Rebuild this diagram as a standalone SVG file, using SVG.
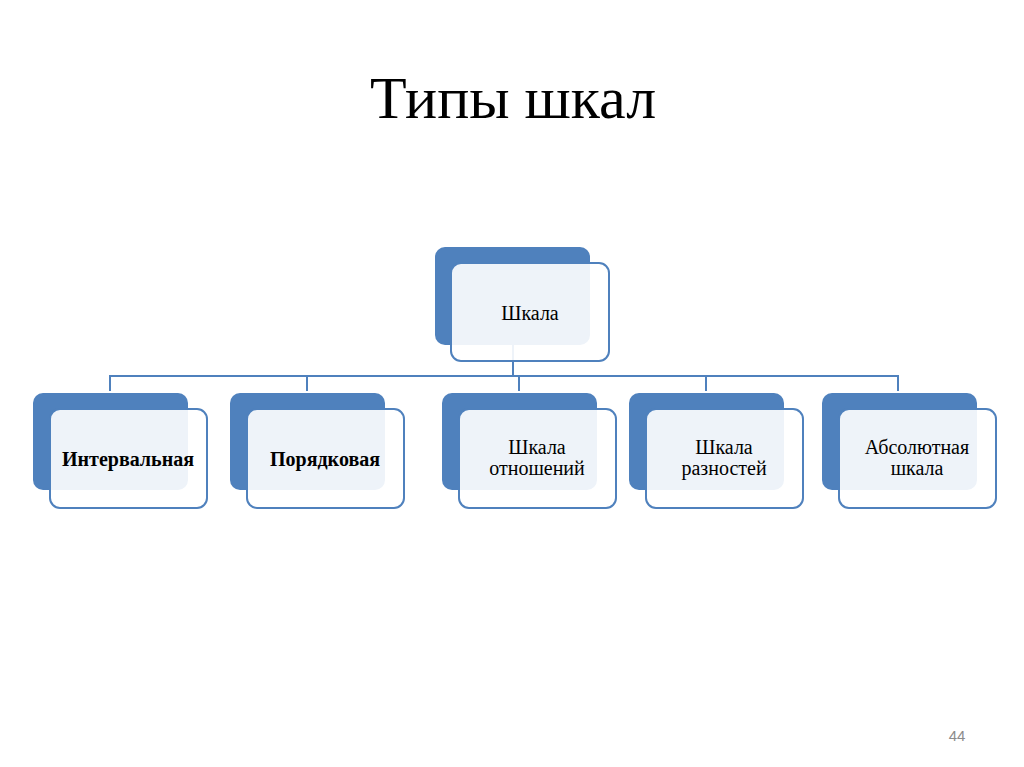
<svg xmlns="http://www.w3.org/2000/svg" width="1024" height="767" viewBox="0 0 1024 767">
<style>
.back{fill:#4F81BD}
.front{fill:#FFFFFF;fill-opacity:0.9;stroke:#4F81BD;stroke-width:2}
.conn{fill:none;stroke:#4F81BD;stroke-width:2}
.lbl{font-family:"Liberation Serif","Times New Roman",serif;font-size:20px;fill:#000;text-anchor:middle}
.b{font-weight:bold}
</style>
<rect width="1024" height="767" fill="#FFFFFF"/>
<text x="513" y="118" font-family="Liberation Serif,Times New Roman,serif" font-size="60" text-anchor="middle" fill="#000">Типы шкал</text>
<g id="connectors">
<path class="conn" d="M513 345 V376 M110 376 H898 M110 375 V391 M307 375 V391 M519 375 V391 M706 375 V391 M898 375 V391"/>
</g>
<g id="root">
<rect class="back" x="435" y="247" width="155" height="98" rx="10"/>
<rect class="front" x="451" y="263" width="158" height="98" rx="10"/>
<text class="lbl" x="530" y="320">Шкала</text>
</g>
<g id="n1">
<rect class="back" x="33" y="393" width="155" height="97" rx="10"/>
<rect class="front" x="50" y="409" width="157" height="99" rx="10"/>
<text class="lbl b" x="128" y="466">Интервальная</text>
</g>
<g id="n2">
<rect class="back" x="230" y="393" width="155" height="97" rx="10"/>
<rect class="front" x="247" y="409" width="157" height="99" rx="10"/>
<text class="lbl b" x="325" y="466">Порядковая</text>
</g>
<g id="n3">
<rect class="back" x="442" y="393" width="155" height="97" rx="10"/>
<rect class="front" x="459" y="409" width="157" height="99" rx="10"/>
<text class="lbl" x="537" y="454">Шкала</text>
<text class="lbl" x="537" y="475">отношений</text>
</g>
<g id="n4">
<rect class="back" x="629" y="393" width="155" height="97" rx="10"/>
<rect class="front" x="646" y="409" width="157" height="99" rx="10"/>
<text class="lbl" x="724" y="454">Шкала</text>
<text class="lbl" x="724" y="475">разностей</text>
</g>
<g id="n5">
<rect class="back" x="822" y="393" width="155" height="97" rx="10"/>
<rect class="front" x="839" y="409" width="157" height="99" rx="10"/>
<text class="lbl" x="917" y="454">Абсолютная</text>
<text class="lbl" x="917" y="475">шкала</text>
</g>
<text x="957" y="741" font-family="Liberation Sans,Arial,sans-serif" font-size="15" text-anchor="middle" fill="#8C8C8C">44</text>
</svg>
